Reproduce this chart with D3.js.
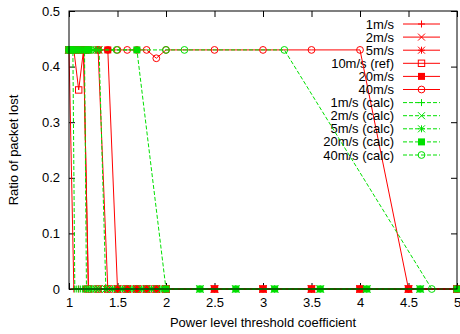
<!DOCTYPE html>
<html><head><meta charset="utf-8">
<script src="https://cdn.jsdelivr.net/npm/d3@7/dist/d3.min.js"></script>
<style>
body{margin:0;background:#fff;}
text{font-family:"Liberation Sans",Arial,Helvetica,sans-serif;font-size:13px;fill:#000;}
</style></head>
<body><svg id="c" width="460" height="334"></svg>
<script>
// ---- data ----
const xTicks = [1, 1.5, 2, 2.5, 3, 3.5, 4, 4.5, 5];
const xTickLabels = ["1", "1.5", "2", "2.5", "3", "3.5", "4", "4.5", "5"];
const yTicks = [0, 0.1, 0.2, 0.3, 0.4, 0.5];
const yTickLabels = ["0", "0.1", "0.2", "0.3", "0.4", "0.5"];

// simulated (red) x grid
const simX   = [1.0, 1.05, 1.1, 1.15, 1.2, 1.3, 1.4, 1.5, 1.6, 1.7, 1.8, 1.9, 2.0, 2.5, 3.0, 3.5, 4.0, 4.5, 5.0];
const sim1   = [0.43, 0, 0, 0, 0, 0, 0, 0, 0, 0, 0, 0, 0, 0, 0, 0, 0, 0, 0];
const sim2   = [0.43, 0.43, 0.43, 0.43, 0, 0, 0, 0, 0, 0, 0, 0, 0, 0, 0, 0, 0, 0, 0];
const sim5   = [0.43, 0.43, 0.43, 0.43, 0.43, 0.43, 0, 0, 0, 0, 0, 0, 0, 0, 0, 0, 0, 0, 0];
const sim10  = [0.43, 0.43, 0.358, 0.43, 0, 0, 0, 0, 0, 0, 0, 0, 0, 0, 0, 0, 0, 0, 0];
const sim20  = [0.43, 0.43, 0.43, 0.43, 0.43, 0.43, 0.43, 0, 0, 0, 0, 0, 0, 0, 0, 0, 0, 0, 0];
const sim40  = [0.43, 0.43, 0.43, 0.43, 0.43, 0.43, 0.43, 0.43, 0.43, 0.43, 0.43, 0.415, 0.43, 0.43, 0.43, 0.43, 0.43, 0, 0];

// calculated (green) series
const calcX   = [1.0, 1.02, 1.04, 1.06, 1.08, 1.1, 1.12, 1.14, 1.16, 1.18, 1.2, 1.22, 1.25, 1.28, 1.31, 1.38, 1.45, 1.55, 1.65, 1.75, 1.85, 1.95, 2.35, 2.72, 3.12, 3.59, 4.07, 4.62];
const calc1   = [0.43, 0.43, 0.43, 0, 0, 0, 0, 0, 0, 0, 0, 0, 0, 0, 0, 0, 0, 0, 0, 0, 0, 0, 0, 0, 0, 0, 0, 0];
const calc2   = [0.43, 0.43, 0.43, 0.43, 0.43, 0.43, 0.43, 0.43, 0.43, 0, 0, 0, 0, 0, 0, 0, 0, 0, 0, 0, 0, 0, 0, 0, 0, 0, 0, 0];
const calc5   = [0.43, 0.43, 0.43, 0.43, 0.43, 0.43, 0.43, 0.43, 0.43, 0.43, 0.43, 0.43, 0.43, 0.43, 0.43, 0, 0, 0, 0, 0, 0, 0, 0, 0, 0, 0, 0, 0];
const calc20X = [1.0, 1.2, 1.7, 2.0, 2.35, 2.72, 3.12, 3.59, 4.07, 4.62, 5.0];
const calc20  = [0.43, 0.43, 0.43, 0, 0, 0, 0, 0, 0, 0, 0];
const calc40X = [1.0, 1.49, 2.0, 2.19, 3.22, 4.74];
const calc40  = [0.43, 0.43, 0.43, 0.43, 0.43, 0];

const seriesNames = ["1m/s", "2m/s", "5m/s", "10m/s (ref)", "20m/s", "40m/s",
  "1m/s (calc)", "2m/s (calc)", "5m/s (calc)", "20m/s (calc)", "40m/s (calc)"];

const series = [
  {name: seriesNames[0], xs: simX, ys: sim1, color: "#ff0000", dash: null, mark: "plus"},
  {name: seriesNames[1], xs: simX, ys: sim2, color: "#ff0000", dash: null, mark: "cross"},
  {name: seriesNames[2], xs: simX, ys: sim5, color: "#ff0000", dash: null, mark: "star"},
  {name: seriesNames[3], xs: simX, ys: sim10, color: "#ff0000", dash: null, mark: "box"},
  {name: seriesNames[4], xs: simX, ys: sim20, color: "#ff0000", dash: null, mark: "fbox"},
  {name: seriesNames[5], xs: simX, ys: sim40, color: "#ff0000", dash: null, mark: "circle"},
  {name: seriesNames[6], xs: calcX, ys: calc1, color: "#00e000", dash: "4,2", mark: "plus"},
  {name: seriesNames[7], xs: calcX, ys: calc2, color: "#00e000", dash: "4,2", mark: "cross"},
  {name: seriesNames[8], xs: calcX, ys: calc5, color: "#00e000", dash: "4,2", mark: "star"},
  {name: seriesNames[9], xs: calc20X, ys: calc20, color: "#00e000", dash: "4,2", mark: "fbox"},
  {name: seriesNames[10], xs: calc40X, ys: calc40, color: "#00e000", dash: "4,2", mark: "circle"}
];

// ---- layout ----
const L = 69, R = 457, T = 11, B = 289;
const svg = d3.select("#c");
const x = d3.scaleLinear().domain([1, 5]).range([L, R]);
const y = d3.scaleLinear().domain([0, 0.5]).range([B, T]);

// axes (gnuplot style inward ticks, mirrored)
const gx = svg.append("g").attr("transform", `translate(0,${B})`)
  .call(d3.axisBottom(x).tickValues(xTicks).tickFormat((d, i) => xTickLabels[i]).tickSize(-6).tickPadding(9));
const gy = svg.append("g").attr("transform", `translate(${L},0)`)
  .call(d3.axisLeft(y).tickValues(yTicks).tickFormat((d, i) => yTickLabels[i]).tickSize(-6).tickPadding(9));
const gt = svg.append("g").attr("transform", `translate(0,${T})`)
  .call(d3.axisTop(x).tickValues(xTicks).tickFormat("").tickSize(-6));
const gr = svg.append("g").attr("transform", `translate(${R},0)`)
  .call(d3.axisRight(y).tickValues(yTicks).tickFormat("").tickSize(-6));
[gx, gy, gt, gr].forEach(g => {
  g.select(".domain").remove();
  g.selectAll("line").attr("stroke", "#000");
  g.selectAll("text").style("font-size", "13px").attr("fill", "#000");
});

// marker drawing
function marker(g, cx, cy, type, color) {
  const r = 3.5;
  if (type === "plus") {
    g.append("path").attr("d", `M${cx - r},${cy}H${cx + r}M${cx},${cy - r}V${cy + r}`).attr("stroke", color).attr("fill", "none");
  } else if (type === "cross") {
    g.append("path").attr("d", `M${cx - r},${cy - r}L${cx + r},${cy + r}M${cx - r},${cy + r}L${cx + r},${cy - r}`).attr("stroke", color).attr("fill", "none");
  } else if (type === "star") {
    g.append("path").attr("d", `M${cx - r},${cy}H${cx + r}M${cx},${cy - r}V${cy + r}M${cx - r},${cy - r}L${cx + r},${cy + r}M${cx - r},${cy + r}L${cx + r},${cy - r}`).attr("stroke", color).attr("fill", "none");
  } else if (type === "box") {
    g.append("rect").attr("x", cx - 3.2).attr("y", cy - 3.2).attr("width", 6.4).attr("height", 6.4).attr("stroke", color).attr("fill", "none");
  } else if (type === "fbox") {
    g.append("rect").attr("x", cx - 3.5).attr("y", cy - 3.5).attr("width", 7).attr("height", 7).attr("fill", color);
  } else if (type === "circle") {
    g.append("circle").attr("cx", cx).attr("cy", cy).attr("r", 3.4).attr("stroke", color).attr("fill", "none");
  }
}

// plot series
const line = d3.line().x(d => x(d[0])).y(d => y(d[1]));
const plot = svg.append("g");
const legX1 = 403, legX2 = 440, legTextX = 394, legY0 = 24, legDY = 13.1;
series.forEach((s, i) => {
  const pts = s.xs.map((v, j) => [v, s.ys[j]]);
  const g = plot.append("g");
  g.append("path").attr("d", line(pts)).attr("fill", "none").attr("stroke", s.color)
    .attr("stroke-width", 1).attr("stroke-dasharray", s.dash);
  pts.forEach(p => marker(g, x(p[0]), y(p[1]), s.mark, s.color));
  // legend entry
  const ly = legY0 + i * legDY;
  g.append("text").attr("x", legTextX).attr("y", ly).attr("dy", "0.35em").attr("text-anchor", "end").text(s.name);
  g.append("line").attr("x1", legX1).attr("x2", legX2).attr("y1", ly).attr("y2", ly)
    .attr("stroke", s.color).attr("stroke-dasharray", s.dash);
  marker(g, (legX1 + legX2) / 2, ly, s.mark, s.color);
});

// frame
svg.append("rect").attr("x", L).attr("y", T).attr("width", R - L).attr("height", B - T)
  .attr("fill", "none").attr("stroke", "#000").attr("stroke-width", 1);

// axis titles
svg.append("text").attr("x", (L + R) / 2).attr("y", 327).attr("text-anchor", "middle").text("Power level threshold coefficient");
svg.append("text").attr("transform", `translate(18,${(T + B) / 2}) rotate(-90)`).attr("text-anchor", "middle").text("Ratio of packet lost");
</script></body></html>
